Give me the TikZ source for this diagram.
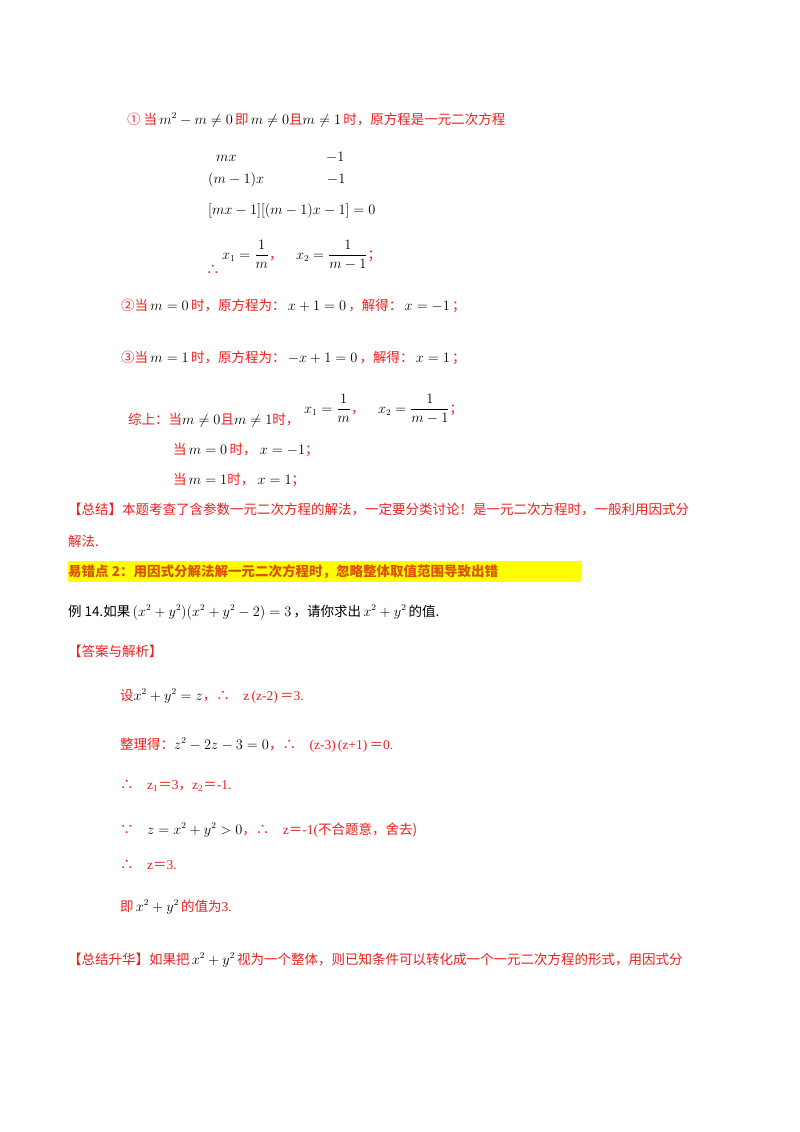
\documentclass[tikz,border=0pt]{standalone}
\usepackage{amsmath}
\usepackage{fontspec}
\setmainfont{Liberation Serif}
\newfontfamily\cjk{Noto Sans CJK SC}
\definecolor{rd}{RGB}{240,30,30}
\definecolor{hl}{RGB}{255,255,0}
\definecolor{or}{RGB}{220,80,0}
\newcommand{\R}[1]{{\color{rd}\cjk #1}}
\newcommand{\EQ}{{\cjk ＝}}
\begin{document}
\begin{tikzpicture}[x=1pt,y=-1pt,
  t/.style={anchor=base west,inner sep=0pt,font=\fontsize{13.5}{16}\selectfont}]
\useasboundingbox (0,0) rectangle (800,1132);
\fill[white] (0,0) rectangle (800,1132);
\node[t] (l1) at (127,124) {\R{① 当}\,$m^2-m\neq0$\,\R{即}\,$m\neq0$\R{且}$m\neq1$\,\R{时，原方程是一元二次方程}};
\node[t] (a1) at (216,161) {$mx$};
\node[t] (a2) at (326,161) {$-1$};
\node[t] (b1) at (208,183) {$(m-1)x$};
\node[t] (b2) at (327,183) {$-1$};
\node[t] (c1) at (208,214) {$[mx-1][(m-1)x-1]=0$};
\node[t] (d0) at (206,274) {\R{∴}};
\node[t] (d1) at (222,259) {$x_1=\dfrac{1}{m}$\R{，}\quad $x_2=\dfrac{1}{m-1}$\R{；}};
\node[t] (e) at (121,310) {\R{②当}\,$m=0$\,\R{时，原方程为：}\,$x+1=0$\,\R{，解得：}\,$x=-1$\,\R{；}};
\node[t] (f) at (121,362) {\R{③当}\,$m=1$\,\R{时，原方程为：}\,$-x+1=0$\,\R{，解得：}\,$x=1$\,\R{；}};
\node[t] (g0) at (128,424) {\R{综上：当}$m\neq0$\R{且}$m\neq1$\R{时，}};
\node[t] (g1) at (304,413) {$x_1=\dfrac{1}{m}$\R{，}\quad $x_2=\dfrac{1}{m-1}$\R{；}};
\node[t] (h) at (173,454) {\R{当}\,$m=0$\,\R{时，}\ $x=-1$\R{；}};
\node[t] (i) at (173,484) {\R{当}\,$m=1$\R{时，}\ $x=1$\R{；}};
\node[t] (j) at (68,514) {\R{【总结】本题考查了含参数一元二次方程的解法，一定要分类讨论！是一元二次方程时，一般利用因式分}};
\node[t] (k) at (68,546) {\R{解法.}};
\fill[hl] (68,561) rectangle (581,582);
\node[t] (hlt) at (68,576) {\bfseries\color{or}\cjk 易错点 2：用因式分解法解一元二次方程时，忽略整体取值范围导致出错};
\node[t] (ex) at (68,616) {{\cjk 例 14.如果}\,$(x^2+y^2)(x^2+y^2-2)=3$\,{\cjk ，请你求出}\,$x^2+y^2$\,{\cjk 的值.}};
\node[t] (ans) at (68,656) {\R{【答案与解析】}};
\node[t] (s1) at (120,700) {\R{设}$x^2+y^2=z$\R{，∴}\quad {\color{rd}z\,(z-2)\,\EQ 3.}};
\node[t] (s2) at (120,749) {\R{整理得：}$z^2-2z-3=0$\R{，∴}\quad {\color{rd}(z-3)\,(z+1)\,\EQ 0.}};
\node[t] (s3) at (120,789) {\R{∴}\quad {\color{rd}z\textsubscript{1}\EQ 3{\cjk ，}z\textsubscript{2}\EQ -1.}};
\node[t] (s4) at (120,834) {\R{∵}\quad $z=x^2+y^2>0$\R{，∴}\quad {\color{rd}z\EQ -1(\cjk 不合题意，舍去)}};
\node[t] (s5) at (120,869) {\R{∴}\quad {\color{rd}z\EQ 3.}};
\node[t] (s6) at (120,911) {\R{即}\,$x^2+y^2$\,\R{的值为}{\color{rd}3.}};
\node[t] (sum) at (68,964) {\R{【总结升华】如果把}\,$x^2+y^2$\,\R{视为一个整体，则已知条件可以转化成一个一元二次方程的形式，用因式分}};
\end{tikzpicture}
\end{document}
